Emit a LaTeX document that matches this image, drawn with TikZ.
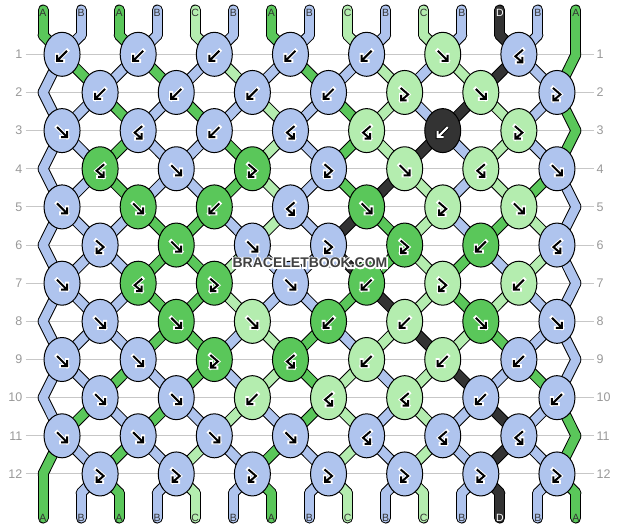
\documentclass[tikz,border=0pt]{standalone}
\usepackage{fontspec}
\setmainfont{Liberation Sans}
\usepackage{tikz}
\usetikzlibrary{shapes.geometric}
\usepackage{xcolor}

\definecolor{strA}{HTML}{5AC75A}
\definecolor{strB}{HTML}{AFC4EE}
\definecolor{strC}{HTML}{B4EDAF}
\definecolor{strD}{HTML}{333333}
\definecolor{rowgray}{HTML}{999999}

\tikzset{
  knot/.style={ellipse, draw=black, line width=1pt, minimum width=36pt, minimum height=44pt, inner sep=0pt},
  band0/.style={draw=black, line width=11pt, line cap=round, line join=round},
  band1/.style={draw=str#1, line width=9pt, line cap=round, line join=round},
  rowline/.style={draw=black!22, line width=1pt},
  rowlabel/.style={text=rowgray, font=\fontsize{12.5}{13}\selectfont, inner xsep=3pt, inner ysep=0pt},
  endlabel/.style={text=black!80, font=\fontsize{10.5}{10.5}\selectfont, inner sep=0pt},
  ink A/.style={}, ink B/.style={}, ink C/.style={}, ink D/.style={text=white},
  glyph back/.style={draw=white, line width=4pt, line cap=rect},
  glyph front/.style={draw=black, line width=2pt},
  glyph A/.style={}, glyph B/.style={}, glyph C/.style={},
  glyph D/.style={glyph front/.style={draw=white, line width=2pt}, glyph back/.style={draw=black, line width=4pt}},
  wmtext/.style={font=\fontsize{14}{14}\selectfont\bfseries, inner sep=0pt},
  pics/f/.style={code={
    \draw[glyph back] (-5,-5) -- (5,5) (5,-1) -- (5,5) -- (-1,5);
    \draw[glyph front] (-5,-5) -- (5,5) (5,-1) -- (5,5) -- (-1,5);
  }},
  pics/b/.style={code={
    \draw[glyph back] (5,-5) -- (-5,5) (-5,-1) -- (-5,5) -- (1,5);
    \draw[glyph front] (5,-5) -- (-5,5) (-5,-1) -- (-5,5) -- (1,5);
  }},
  pics/fb/.style={code={
    \draw[glyph back] (-4,-6) -- (3.5,0.5) -- (-3.5,6.5) (-3.5,1) -- (-3.5,6.5) -- (2,6.5);
    \draw[glyph front] (-4,-6) -- (3.5,0.5) -- (-3.5,6.5) (-3.5,1) -- (-3.5,6.5) -- (2,6.5);
  }},
  pics/bf/.style={code={
    \draw[glyph back] (4,-6) -- (-3.5,0.5) -- (3.5,6.5) (3.5,1) -- (3.5,6.5) -- (-2,6.5);
    \draw[glyph front] (4,-6) -- (-3.5,0.5) -- (3.5,6.5) (3.5,1) -- (3.5,6.5) -- (-2,6.5);
  }},
}

\begin{document}
\begin{tikzpicture}[x=1pt, y=-1pt]
  \useasboundingbox (0,0) rectangle (620,528);

  % row numbers and guide lines
  \foreach \r in {1,...,12} {
    \pgfmathsetmacro{\y}{54.3+(\r-1)*38.15}
    \node[rowlabel, anchor=east] (left-\r) at (25.5,\y) {\r};
    \node[rowlabel, anchor=west] (right-\r) at (593.5,\y) {\r};
    \draw[rowline] (left-\r) -- (right-\r);
  }

  % knot centres and edge bends
  \foreach \r in {1,...,12} {
    \foreach \p in {1,...,15} {
      \pgfmathsetmacro{\s}{ifthenelse(mod(\p+\r,2)==0,1,-1)*(1-(\p==15)*mod(\r,2)-(\p==1)*(1-mod(\r,2)))}
      \pgfmathsetmacro{\x}{43+(\p-1)*38.07+\s*19.035}
      \pgfmathsetmacro{\y}{54.3+(\r-1)*38.15}
      \coordinate (n-\r-\p) at (\x,\y);
    }
  }
  \foreach \p in {1,...,15} {
    \pgfmathsetmacro{\x}{43+(\p-1)*38.07}
    \coordinate (t-\p) at (\x,10);
    \coordinate (n-0-\p) at (\x,35.2);
    \coordinate (n-13-\p) at (\x,493);
    \coordinate (b-\p) at (\x,518);
  }

  % threads: outline first, then colour
  \foreach \pass in {0,1} {
    \foreach \r/\st in {
        0/{A,B,A,B,C,B,A,B,C,B,C,B,D,B,A},
        1/{B,A,B,A,B,C,B,A,B,C,B,C,D,B,A},
        2/{B,B,A,B,A,B,C,B,A,C,B,D,C,B,A},
        3/{B,B,A,B,B,A,C,B,A,C,D,B,C,B,A},
        4/{B,B,A,B,B,A,C,B,A,D,C,B,C,A,B},
        5/{B,B,B,A,A,B,C,B,D,A,C,B,A,C,B},
        6/{B,B,B,A,A,C,B,B,D,A,C,A,B,C,B},
        7/{B,B,B,A,A,C,B,B,A,D,C,A,C,B,B},
        8/{B,B,B,A,A,B,C,A,B,C,D,C,A,B,B},
        9/{B,B,A,B,A,B,C,A,C,B,C,D,B,A,B},
        10/{B,A,B,A,B,C,B,A,C,B,C,B,D,B,A},
        11/{A,B,A,B,C,B,A,B,C,B,C,B,D,B,A},
        12/{A,B,A,B,C,B,A,B,C,B,C,B,D,B,A}} {
      \pgfmathtruncatemacro{\rn}{\r+1}
      \foreach \c [count=\p] in \st
        \draw[band\pass=\c] (n-\r-\p) -- (n-\rn-\p);
    }
    \foreach \c [count=\p] in {A,B,A,B,C,B,A,B,C,B,C,B,D,B,A} {
      \draw[band\pass=\c] (t-\p) -- (n-0-\p);
      \draw[band\pass=\c] (n-13-\p) -- (b-\p);
    }
  }

  % thread names at both ends
  \foreach \c [count=\p] in {A,B,A,B,C,B,A,B,C,B,C,B,D,B,A} {
    \node[endlabel, ink \c] (top-\p) at ([yshift=-2.5pt]t-\p) {\c};
    \node[endlabel, ink \c] (bot-\p) at (b-\p) {\c};
  }

  % knots
  \foreach \r/\row in {
      1/{b/B,b/B,b/B,b/B,b/B,f/C,bf/B},
      2/{b/B,b/B,b/B,b/B,fb/C,f/C,fb/B},
      3/{f/B,bf/B,b/B,bf/B,bf/C,b/D,fb/C},
      4/{bf/A,f/B,fb/A,fb/B,f/C,bf/C,f/B},
      5/{f/B,f/A,b/A,bf/B,f/A,fb/C,f/C},
      6/{fb/B,f/A,f/B,fb/B,fb/A,b/A,bf/B},
      7/{f/B,bf/A,fb/A,f/B,b/A,fb/C,b/C},
      8/{f/B,f/A,f/C,b/A,b/C,f/A,f/B},
      9/{f/B,f/B,fb/A,bf/A,b/C,b/C,b/B},
      10/{f/B,f/B,b/C,bf/C,bf/C,b/B,b/B},
      11/{f/B,f/B,f/B,f/B,bf/B,bf/B,bf/B},
      12/{fb/B,fb/B,fb/B,fb/B,fb/B,fb/B,fb/B}} {
    \foreach \t/\c [count=\j] in \row {
      \pgfmathtruncatemacro{\pl}{2*\j-mod(\r,2)}
      \node[knot, fill=str\c] (k-\r-\j) at (n-\r-\pl) {};
      \pic[glyph \c, shift={(0,1.5)}] at (k-\r-\j) {\t};
    }
  }

  % watermark with a white halo
  \node[wmtext, text=white] (halo) at (310,263) {\addfontfeatures{FakeBold=20}BRACELETBOOK.COM};
  \node[wmtext, text=black!75] (wm) at (halo) {BRACELETBOOK.COM};
\end{tikzpicture}
\end{document}
